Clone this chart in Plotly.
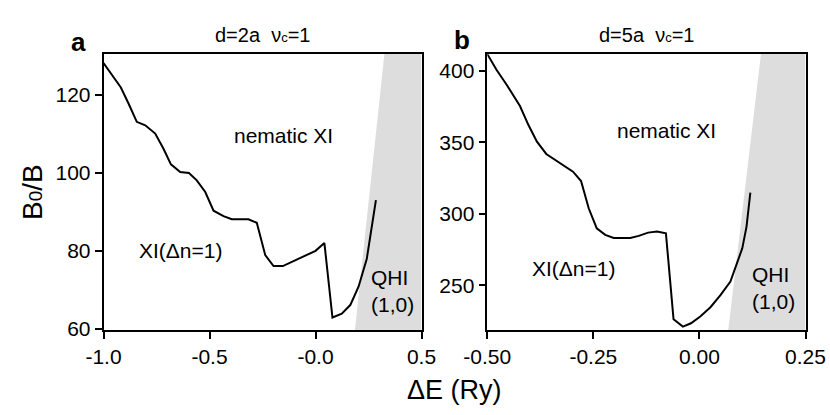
import plotly.graph_objects as go

# ---- data ----
# panel a : d=2a
a_dE = [-1.0, -0.918, -0.882, -0.843, -0.803, -0.756, -0.717, -0.682, -0.638, -0.597,
        -0.56, -0.52, -0.481, -0.434, -0.395, -0.316, -0.277, -0.237, -0.198, -0.154,
        0.0, 0.042, 0.08, 0.124, 0.164, 0.203, 0.242, 0.261, 0.285]
a_B = [128.2, 121.9, 117.8, 113.1, 112.2, 110.1, 106.2, 102.2, 100.2, 100.0,
       98.1, 95.1, 90.3, 88.9, 88.1, 88.1, 87.2, 78.9, 76.1, 76.1,
       80.0, 82.0, 62.9, 63.9, 66.1, 70.8, 78.0, 84.4, 93.0]
a_qhi_dE = [0.186, 0.325]      # QHI boundary (bottom, top)
a_qhi_B = [59.7, 130.5]

# panel b : d=5a
b_dE = [-0.5, -0.478, -0.454, -0.423, -0.403, -0.383, -0.361, -0.328, -0.298, -0.279,
        -0.261, -0.242, -0.222, -0.202, -0.163, -0.143, -0.121, -0.1, -0.079, -0.061,
        -0.039, -0.02, 0.002, 0.026, 0.05, 0.073, 0.101, 0.111, 0.12]
b_B = [411.6, 400.5, 390.0, 375.3, 362.0, 350.4, 341.8, 335.2, 329.4, 322.9,
       303.8, 289.8, 285.2, 283.0, 283.0, 284.5, 286.8, 287.5, 286.3, 226.2,
       221.1, 223.4, 228.1, 234.6, 243.2, 252.6, 275.8, 291.0, 314.7]
b_qhi_dE = [0.068, 0.145]
b_qhi_B = [218.7, 411.7]

a_xrange = [-1.0, 0.5]
a_yrange = [59.7, 130.5]
b_xrange = [-0.5, 0.25]
b_yrange = [218.7, 411.7]

a_xticks = [-1.0, -0.5, 0.0, 0.5]
a_xtext = ["-1.0", "-0.5", "-0.0", "0.5"]
a_yticks = [60, 80, 100, 120]
b_xticks = [-0.5, -0.25, 0.0, 0.25]
b_xtext = ["-0.50", "-0.25", "0.00", "0.25"]
b_yticks = [250, 300, 350, 400]

FONT = "Liberation Sans, Arial, Helvetica, sans-serif"
GREY = "#dddddd"

fig = go.Figure()

# shaded QHI regions
fig.add_trace(go.Scatter(
    x=[a_qhi_dE[0], a_qhi_dE[1], a_xrange[1], a_xrange[1]],
    y=[a_qhi_B[0], a_qhi_B[1], a_qhi_B[1], a_qhi_B[0]],
    fill="toself", fillcolor=GREY, line=dict(width=0), mode="lines",
    hoverinfo="skip", showlegend=False, xaxis="x", yaxis="y"))
fig.add_trace(go.Scatter(
    x=[b_qhi_dE[0], b_qhi_dE[1], b_xrange[1], b_xrange[1]],
    y=[b_qhi_B[0], b_qhi_B[1], b_qhi_B[1], b_qhi_B[0]],
    fill="toself", fillcolor=GREY, line=dict(width=0), mode="lines",
    hoverinfo="skip", showlegend=False, xaxis="x2", yaxis="y2"))

# boundary curves
fig.add_trace(go.Scatter(x=a_dE, y=a_B, mode="lines",
                         line=dict(color="black", width=2),
                         showlegend=False, xaxis="x", yaxis="y"))
fig.add_trace(go.Scatter(x=b_dE, y=b_B, mode="lines",
                         line=dict(color="black", width=2),
                         showlegend=False, xaxis="x2", yaxis="y2"))

axis_common = dict(showline=True, linecolor="black", linewidth=1.5, mirror=True,
                   ticks="outside", ticklen=7, tickwidth=1.5, tickcolor="black",
                   showgrid=False, zeroline=False, automargin=False,
                   tickfont=dict(family=FONT, size=21, color="black"))

fig.update_layout(
    width=830, height=415,
    margin=dict(l=0, r=0, t=54, b=85),
    paper_bgcolor="white", plot_bgcolor="white",
    font=dict(family=FONT, color="black"),
    xaxis=dict(domain=[103.5 / 830, 421.5 / 830], range=a_xrange,
               tickvals=a_xticks, ticktext=a_xtext, anchor="y", **axis_common),
    yaxis=dict(domain=[0, 1], range=a_yrange, tickvals=a_yticks,
               anchor="x", **axis_common),
    xaxis2=dict(domain=[487.3 / 830, 805.5 / 830], range=b_xrange,
                tickvals=b_xticks, ticktext=b_xtext, anchor="y2", **axis_common),
    yaxis2=dict(domain=[0, 1], range=b_yrange, tickvals=b_yticks,
                anchor="x2", **axis_common),
)

ann = []
lab = dict(family=FONT, size=21, color="black")
C = dict(showarrow=False, xanchor="center", yanchor="middle")
# region labels panel a
ann.append(dict(x=-0.153, y=109.7, xref="x", yref="y", text="nematic XI", font=lab, **C))
ann.append(dict(x=-0.639, y=80, xref="x", yref="y", text="XI(Δn=1)", font=lab, **C))
ann.append(dict(x=0.252, y=69.6, xref="x", yref="y", text="QHI<br>(1,0)",
                showarrow=False, font=lab, xanchor="left", yanchor="middle", align="left"))
# region labels panel b
ann.append(dict(x=-0.077, y=358.5, xref="x2", yref="y2", text="nematic XI", font=lab, **C))
ann.append(dict(x=-0.297, y=261.8, xref="x2", yref="y2", text="XI(Δn=1)", font=lab, **C))
ann.append(dict(x=0.1196, y=248.2, xref="x2", yref="y2", text="QHI<br>(1,0)",
                showarrow=False, font=lab, xanchor="left", yanchor="middle", align="left"))
# panel titles
tfont = dict(family=FONT, size=20, color="black")
ann.append(dict(x=262.5 / 830, y=1.069, xref="paper", yref="paper",
                text="d=2a  ν<span style='font-size:13px'>c</span>=1", font=tfont, **C))
ann.append(dict(x=646 / 830, y=1.069, xref="paper", yref="paper",
                text="d=5a  ν<span style='font-size:13px'>c</span>=1", font=tfont, **C))
# panel letters
pfont = dict(family=FONT, size=26, color="black")
ann.append(dict(x=78 / 830, y=1.045, xref="paper", yref="paper",
                text="<b>a</b>", font=pfont, **C))
ann.append(dict(x=462 / 830, y=1.05, xref="paper", yref="paper",
                text="<b>b</b>", font=pfont, **C))
# axis titles
ann.append(dict(x=454 / 830, y=-0.217, xref="paper", yref="paper",
                text="ΔE (Ry)", font=dict(family=FONT, size=27, color="black"), **C))
ann.append(dict(x=32 / 830, y=0.5, xref="paper", yref="paper",
                text="B<span style='font-size:19px'>0</span>/B", textangle=-90,
                font=dict(family=FONT, size=28, color="black"), **C))
fig.update_layout(annotations=ann)

fig.write_html("out.html", config={"displayModeBar": False},
               post_script="document.body.style.margin='0';document.body.style.overflow='hidden';")
